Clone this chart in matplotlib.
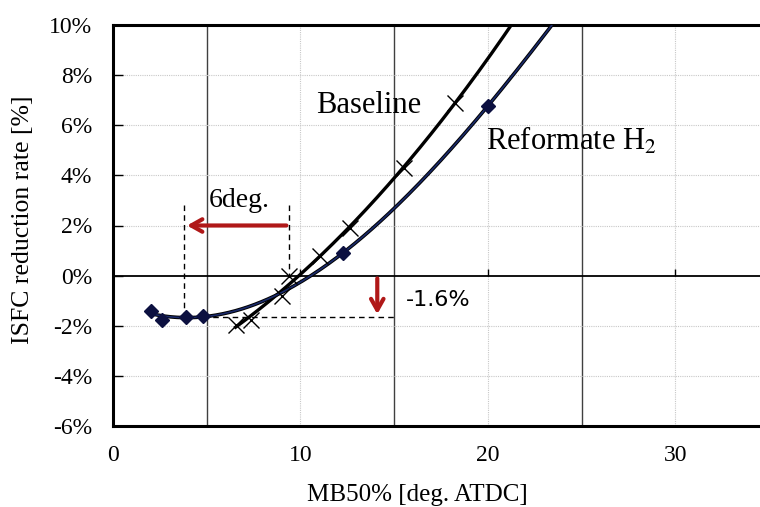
import numpy as np
import matplotlib.pyplot as plt

plt.rcParams['font.family'] = ['Liberation Serif', 'DejaVu Serif']
plt.rcParams['mathtext.fontset'] = 'stix'

# MB50% [deg. ATDC] vs ISFC reduction rate [%]
base_x = [6.54, 7.36, 9.0, 9.4, 11.04, 12.64, 15.5, 18.24]
base_y = [-1.96, -1.77, -0.8, -0.03, 0.8, 1.89, 4.31, 6.89]
ref_x = [2.03, 2.6, 3.87, 4.78, 12.25, 20.0]
ref_y = [-1.40, -1.77, -1.67, -1.6, 0.89, 6.77]

yticks = [-6, -4, -2, 0, 2, 4, 6, 8, 10]
xticks = [0, 10, 20, 30]

fig = plt.figure(figsize=(7.6, 5.07), dpi=100)
ax = fig.add_axes([113 / 760, 81 / 507, 656 / 760, 401 / 507])
ax.set_xlim(0, 35)
ax.set_ylim(-6, 10)

# grid
for gx in [10, 20, 30]:
    ax.axvline(gx, color='#c8c8c8', lw=0.8, ls=(0, (1, 1)), zorder=1)
for gx in [5, 15, 25]:
    ax.axvline(gx, color='#404040', lw=1.0, zorder=1)
for gy in [-4, -2, 2, 4, 6, 8]:
    ax.axhline(gy, color='#c8c8c8', lw=0.8, ls=(0, (1, 1)), zorder=1)
ax.axhline(0, color='black', lw=1.3, zorder=2)
ax.vlines(xticks[1:], 0, 0.28, color='black', lw=1.0, zorder=2)

# trend lines
bfit = np.polyfit(base_x, base_y, 2)
bx = np.linspace(min(base_x), 23, 200)
ax.plot(bx, np.polyval(bfit, bx), color='black', lw=2.4, zorder=3)
rfit = np.polyfit(ref_x, ref_y, 3)
rx = np.linspace(min(ref_x), 25, 200)
ax.plot(rx, np.polyval(rfit, rx), color='black', lw=2.6, zorder=3)
ax.plot(rx, np.polyval(rfit, rx), color='#1a2a6a', lw=1.2, zorder=3)

ax.plot(base_x, base_y, ls='none', marker='x', ms=11, mew=1.0, color='black', zorder=4)
ax.plot(ref_x, ref_y, ls='none', marker='D', ms=7.5, color='#0c1040', zorder=4)

# annotations
dash = dict(color='black', lw=1.0, ls=(0, (4, 3)), zorder=2)
ax.plot([3.8, 3.8], [2.8, ref_y[2]], **dash)
ax.plot([9.4, 9.4], [2.8, 0], **dash)
ax.plot([4.78, 15.0], [-1.67, -1.67], **dash)
ax.annotate('', xy=(3.8, 2.0), xytext=(9.4, 2.0),
            arrowprops=dict(arrowstyle='->,head_length=0.8,head_width=0.45',
                            color='#b01818', lw=3), zorder=5)
ax.annotate('', xy=(14.1, -1.65), xytext=(14.1, 0),
            arrowprops=dict(arrowstyle='->,head_length=0.8,head_width=0.45',
                            color='#b01818', lw=3), zorder=5)
ax.text(5.1, 3.0, '6deg.', fontsize=20, va='center', ha='left')
ax.text(15.6, -0.98, '-1.6%', fontsize=16, va='center', ha='left',
        family=['DejaVu Sans'])
ax.text(10.85, 6.8, 'Baseline', fontsize=22, va='center', ha='left')
ax.text(19.9, 5.35, r'Reformate H$_2$', fontsize=22, va='center', ha='left')

ax.set_xticks(xticks)
ax.set_yticks(yticks)
ax.set_yticklabels([f'{v}%' for v in yticks])
ax.tick_params(axis='y', direction='in', length=7, width=1, pad=15, labelsize=17)
ax.tick_params(axis='x', length=0, pad=14, labelsize=17)
for s in ['left', 'top', 'bottom']:
    ax.spines[s].set_linewidth(2.2)
ax.spines['right'].set_visible(False)

fig.text(23 / 760, 1 - 220 / 507, 'ISFC reduction rate [%]', fontsize=18.5,
         rotation=90, ha='center', va='center')
fig.text(417 / 760, 1 - 495 / 507, 'MB50% [deg. ATDC]', fontsize=18,
         ha='center', va='center')

fig.savefig('out.png', dpi=100)
